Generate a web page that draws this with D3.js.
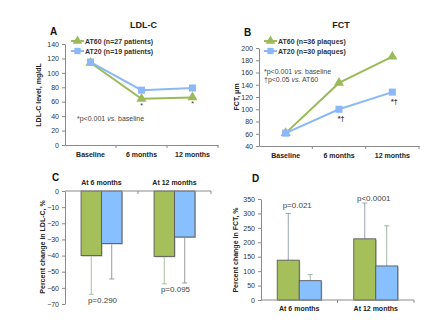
<!DOCTYPE html>
<html>
<head>
<meta charset="utf-8">
<script src="https://cdn.jsdelivr.net/npm/d3@7"></script>
<style>
  body { margin: 0; background: #fff; }
  svg { font-family: "Liberation Sans", Arial, sans-serif; }
  .tick text { fill: #333; font-size: 7px; }
  .tick line, .domain { stroke: #8a8a8a; }
  .cat text { font-weight: bold; font-size: 7px; fill: #222; }
</style>
</head>
<body>
<div id="chart"></div>
<script>
// time points and group means
const timepoints = ["Baseline", "6 months", "12 months"];
const ldlAT60 = [114, 64, 66];
const ldlAT20 = [115, 76, 79];
const fctAT60 = [61, 143, 186];
const fctAT20 = [61, 100, 128];

// percent change from baseline (mean, SD)
const periods = ["At 6 months", "At 12 months"];
const ldlChgAT60 = [-40, -40.5];
const ldlChgAT60Sd = [24, 17];
const ldlChgAT20 = [-32.5, -28.5];
const ldlChgAT20Sd = [22, 28.5];
const ldlPvals = ["p=0.290", "p=0.095"];

const fctChgAT60 = [138, 212];
const fctChgAT60Sd = [162, 124];
const fctChgAT20 = [67, 118];
const fctChgAT20Sd = [21, 139];
const fctPvals = ["p=0.021", "p<0.0001"];

const green = "#9bbb59", blue = "#8cb8f7";
const barGreen = "#a5c05a", barBlue = "#88c0ff";

const svg = d3.select("#chart").append("svg")
  .attr("width", 440).attr("height", 326);

function yLabel(x, y, txt) {
  svg.append("text")
    .attr("transform", "translate(" + x + "," + y + ") rotate(-90)")
    .attr("text-anchor", "middle")
    .attr("font-size", 7).attr("font-weight", "bold").attr("fill", "#222")
    .text(txt);
}

function letter(x, y, txt) {
  svg.append("text").attr("x", x).attr("y", y)
    .attr("font-size", 10).attr("font-weight", "bold").attr("fill", "#111")
    .text(txt);
}

// ---------- line panels (A, B) ----------
function linePanel(cfg) {
  const x = d3.scaleBand().domain(timepoints).range(cfg.xr);
  const y = d3.scaleLinear().domain(cfg.dom).range(cfg.yr);

  svg.append("g").attr("transform", "translate(" + cfg.xr[0] + ",0)")
    .call(d3.axisLeft(y).ticks((cfg.dom[1] - cfg.dom[0]) / 20).tickSize(3).tickPadding(3).tickSizeOuter(0));

  const xa = svg.append("g").attr("class", "cat")
    .attr("transform", "translate(0," + cfg.yr[0] + ")")
    .call(d3.axisBottom(x).tickSize(0).tickPadding(7).tickSizeOuter(0));
  xa.selectAll(".tick text").attr("font-size", 7).attr("font-weight", "bold").attr("fill", "#222");
  // boundary ticks between categories
  xa.selectAll(".bnd").data(timepoints.slice(1).concat(["end"]))
    .enter().append("line")
    .attr("x1", (d, i) => x.range()[0] + x.step() * (i + 1))
    .attr("x2", (d, i) => x.range()[0] + x.step() * (i + 1))
    .attr("y1", 0).attr("y2", 3).attr("stroke", "#8a8a8a");

  const series = [
    { vals: cfg.at60, color: green, mark: d3.symbolTriangle, size: 44 },
    { vals: cfg.at20, color: blue, mark: d3.symbolSquare, size: 50 }
  ];
  const line = d3.line().x((d, i) => x(timepoints[i]) + x.bandwidth() / 2).y(d => y(d));
  series.forEach(s => {
    svg.append("path").datum(s.vals).attr("d", line)
      .attr("fill", "none").attr("stroke", s.color).attr("stroke-width", 2);
    svg.selectAll(null).data(s.vals).enter().append("path")
      .attr("d", d3.symbol().type(s.mark).size(s.size))
      .attr("transform", (d, i) => "translate(" + (x(timepoints[i]) + x.bandwidth() / 2) + "," + y(d) + ")")
      .attr("fill", s.color);
  });

  // legend
  const leg = [
    { label: cfg.legend[0], color: green, mark: d3.symbolTriangle, size: 40 },
    { label: cfg.legend[1], color: blue, mark: d3.symbolSquare, size: 40 }
  ];
  leg.forEach((l, i) => {
    const ly = cfg.legY + i * 10;
    svg.append("line").attr("x1", cfg.legX).attr("x2", cfg.legX + 13)
      .attr("y1", ly).attr("y2", ly).attr("stroke", l.color).attr("stroke-width", 2);
    svg.append("path").attr("d", d3.symbol().type(l.mark).size(l.size)())
      .attr("transform", "translate(" + (cfg.legX + 6.5) + "," + ly + ")").attr("fill", l.color);
    svg.append("text").attr("x", cfg.legX + 14).attr("y", ly + 2.5)
      .attr("font-size", 7).attr("font-weight", "bold").attr("fill", "#333").text(l.label);
  });

  svg.append("text").attr("x", (cfg.xr[0] + cfg.xr[1]) / 2 + 2).attr("y", 28)
    .attr("text-anchor", "middle").attr("font-size", 9).attr("font-weight", "bold")
    .attr("fill", "#222").text(cfg.title);

  return { x, y };
}

// A: LDL-C
const pa = linePanel({
  xr: [65, 218], yr: [145, 44], dom: [0, 140],
  at60: ldlAT60, at20: ldlAT20, title: "LDL-C",
  legend: ["AT60 (n=27 patients)", "AT20 (n=19 patients)"], legX: 71, legY: 41
});
letter(50, 35, "A");
yLabel(41, 95, "LDL-C level, mg/dL");
[1, 2].forEach(i => {
  svg.append("text").attr("x", pa.x(timepoints[i]) + pa.x.bandwidth() / 2).attr("y", pa.y(ldlAT60[i]) + 9)
    .attr("text-anchor", "middle").attr("font-size", 7).attr("fill", "#333").text("*");
});
const noteA = svg.append("text").attr("x", 77).attr("y", 121).attr("font-size", 7).attr("fill", "#444");
noteA.append("tspan").text("*p<0.001 ");
noteA.append("tspan").attr("font-style", "italic").text("vs.");
noteA.append("tspan").text(" baseline");

// B: FCT
const pb = linePanel({
  xr: [259, 419], yr: [146, 48], dom: [40, 200],
  at60: fctAT60, at20: fctAT20, title: "FCT",
  legend: ["AT60 (n=36 plaques)", "AT20 (n=30 plaques)"], legX: 264, legY: 41
});
letter(244, 36, "B");
yLabel(239, 97, "FCT, \u03bcm");
[1, 2].forEach(i => {
  svg.append("text").attr("x", pb.x(timepoints[i]) + pb.x.bandwidth() / 2 + 2).attr("y", pb.y(fctAT20[i]) + 12)
    .attr("text-anchor", "middle").attr("font-size", 7).attr("font-weight", "bold").attr("fill", "#333").text("*\u2020");
});
const nb1 = svg.append("text").attr("x", 264).attr("y", 74).attr("font-size", 7).attr("fill", "#444");
nb1.append("tspan").text("*p<0.001 ");
nb1.append("tspan").attr("font-style", "italic").text("vs.");
nb1.append("tspan").text(" baseline");
const nb2 = svg.append("text").attr("x", 264).attr("y", 82).attr("font-size", 7).attr("fill", "#444");
nb2.append("tspan").text("\u2020p<0.05 ");
nb2.append("tspan").attr("font-style", "italic").text("vs.");
nb2.append("tspan").text(" AT60");

// ---------- bar panels (C, D) ----------
function barPanel(cfg) {
  const x0 = d3.scaleBand().domain(periods).range(cfg.xr)
    .paddingInner(cfg.pad).paddingOuter(cfg.pad / 2);
  const x1 = d3.scaleBand().domain(["AT60", "AT20"]).range([0, x0.bandwidth()]);
  const y = d3.scaleLinear().domain(cfg.dom).range(cfg.yr);
  const step = x0.step();

  svg.append("g").attr("transform", "translate(" + cfg.xr[0] + ",0)")
    .call(d3.axisLeft(y).ticks(cfg.nTicks).tickSize(3).tickPadding(3).tickSizeOuter(0));

  const groups = [
    { key: "AT60", vals: cfg.at60, sd: cfg.at60Sd, fill: barGreen, err: cfg.errColors[0] },
    { key: "AT20", vals: cfg.at20, sd: cfg.at20Sd, fill: barBlue, err: cfg.errColors[1] }
  ];
  groups.forEach(g => {
    periods.forEach((p, i) => {
      const bx = x0(p) + x1(g.key);
      const v = g.vals[i];
      const cx = bx + x1.bandwidth() / 2;
      const end = v < 0 ? v - g.sd[i] : v + g.sd[i];
      svg.append("line").attr("x1", cx).attr("x2", cx)
        .attr("y1", y(v)).attr("y2", y(end)).attr("stroke", g.err).attr("stroke-width", 1);
      svg.append("line").attr("x1", cx - 2.5).attr("x2", cx + 2.5)
        .attr("y1", y(end)).attr("y2", y(end)).attr("stroke", g.err).attr("stroke-width", 1);
      const top = Math.min(y(v), y(0)), h = Math.abs(y(v) - y(0));
      // drop shadow
      svg.append("rect").attr("x", bx + 1).attr("y", top + 1)
        .attr("width", x1.bandwidth()).attr("height", h).attr("fill", "#bdbdbd");
      svg.append("rect").attr("x", bx).attr("y", top)
        .attr("width", x1.bandwidth()).attr("height", h)
        .attr("fill", g.fill).attr("stroke", "#5a5a5a").attr("stroke-width", 0.9);
    });
  });

  // category axis along zero
  const y0 = y(0);
  svg.append("line").attr("x1", cfg.xr[0]).attr("x2", cfg.xr[1])
    .attr("y1", y0).attr("y2", y0).attr("stroke", "#8a8a8a");
  periods.forEach((p, i) => {
    const bx = cfg.xr[0] + step * (i + 1);
    svg.append("line").attr("x1", bx).attr("x2", bx).attr("y1", y0).attr("y2", y0 + 3)
      .attr("stroke", "#8a8a8a");
    svg.append("text").attr("x", x0(p) + x0.bandwidth() / 2).attr("y", cfg.catY)
      .attr("text-anchor", "middle").attr("font-size", 7).attr("font-weight", "bold")
      .attr("fill", "#222").text(p);
  });

  periods.forEach((p, i) => {
    svg.append("text").attr("x", x0(p) + x0.bandwidth() / 2 + cfg.pDx).attr("y", cfg.pY[i])
      .attr("text-anchor", "middle").attr("font-size", 8).attr("fill", "#444").text(cfg.pvals[i]);
  });
}

// C: percent change in LDL-C
barPanel({
  xr: [65, 211], yr: [304, 191], dom: [-70, 0], nTicks: 7, pad: 0.44,
  at60: ldlChgAT60, at60Sd: ldlChgAT60Sd, at20: ldlChgAT20, at20Sd: ldlChgAT20Sd,
  errColors: ["#a9c2a0", "#9a9a9a"], catY: 185, pvals: ldlPvals, pY: [303, 292], pDx: 1
});
letter(52, 181, "C");
yLabel(45, 247, "Percent change in LDL-C, %");

// D: percent change in FCT
barPanel({
  xr: [261, 414], yr: [300, 199], dom: [0, 350], nTicks: 7, pad: 0.425,
  at60: fctChgAT60, at60Sd: fctChgAT60Sd, at20: fctChgAT20, at20Sd: fctChgAT20Sd,
  errColors: ["#97a3b5", "#9fb7a6"], catY: 311, pvals: fctPvals, pY: [208, 201], pDx: -2
});
letter(252, 182, "D");
yLabel(238, 250, "Percent change in FCT, %");
</script>
</body>
</html>
